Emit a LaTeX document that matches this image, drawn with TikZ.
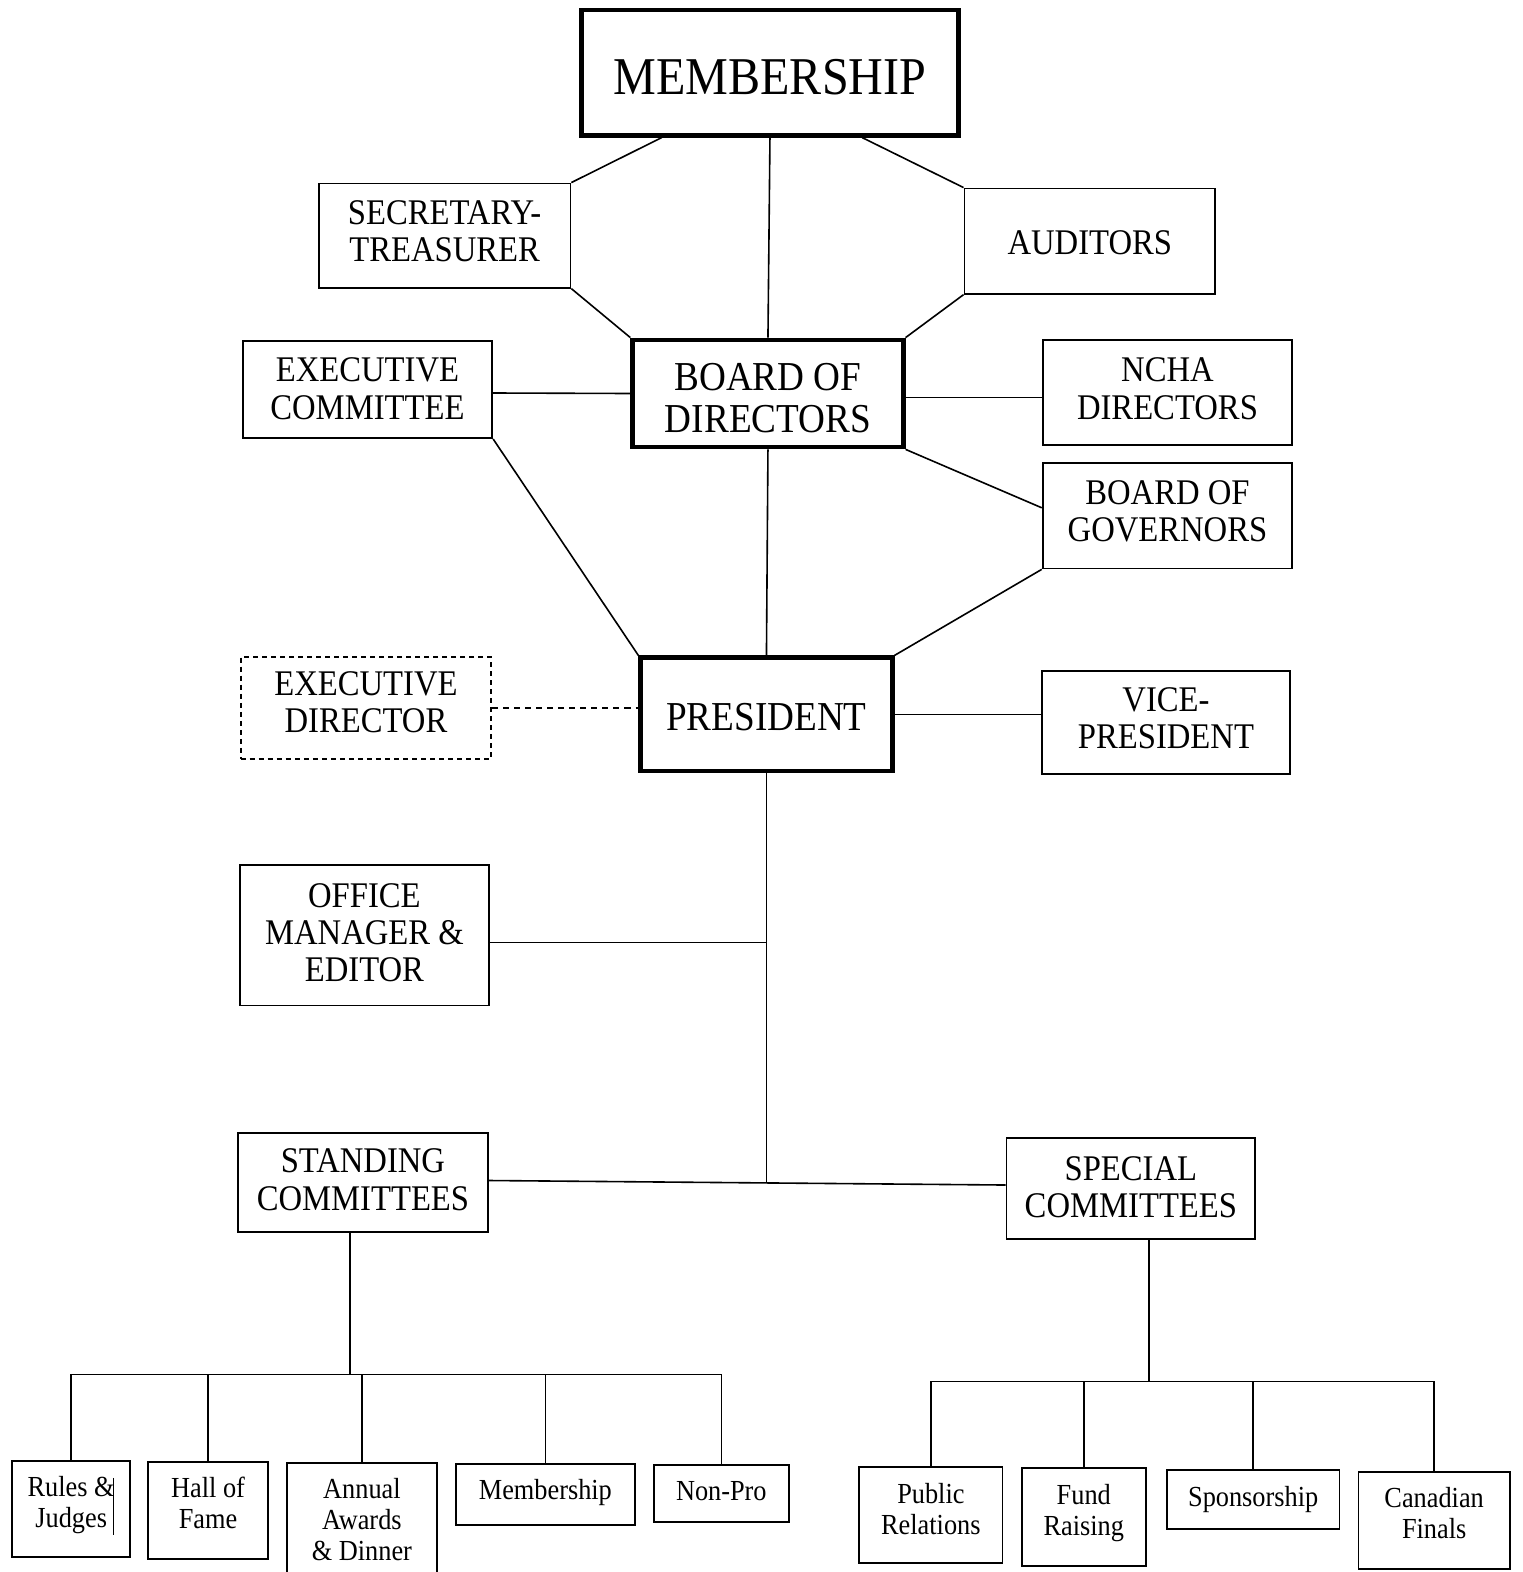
\documentclass[tikz,border=0pt]{standalone}
\usepackage{fontspec}
\setmainfont{Liberation Serif}[FakeStretch=0.905]
\newcommand\fsBig{\fontsize{53}{55}\selectfont}
\newcommand\fsMid{\fontsize{41}{42}\selectfont}
\newcommand\fsStd{\fontsize{36}{37}\selectfont}
\newcommand\fsSmall{\fontsize{29}{31}\selectfont}
\tikzset{
  box/.style={draw, line width=1.8pt, inner sep=0pt, align=center, font=\fsStd},
  mainbox/.style={box, line width=4.5pt, font=\fsMid},
  dashbox/.style={box, dashed, dash pattern=on 5pt off 4pt},
  leaf/.style={box, font=\fsSmall},
  tpos/.style={text height=#1, text depth=0pt},
  link/.style={line width=1.6pt},
  dashlink/.style={line width=1.6pt, dash pattern=on 6pt off 5pt},
}
\begin{document}
\begin{tikzpicture}[x=1pt,y=-1pt]
\useasboundingbox[fill=white] (0,0) rectangle (1519,1568);

% main column
\node[mainbox, font=\fsBig, tpos=44pt, minimum width=376pt, minimum height=125pt] (mem) at (768,72.5) {MEMBERSHIP};
\node[mainbox, tpos=78pt, minimum width=270pt, minimum height=107pt] (bod) at (766,392.5) {BOARD OF\\DIRECTORS};
\node[mainbox, tpos=32pt, minimum width=251pt, minimum height=113pt] (pres) at (764.5,712.5) {PRESIDENT};

% side boxes
\node[box, tpos=52pt, minimum width=251pt, minimum height=104pt] (sec) at (443.5,235) {SECRETARY-\\TREASURER};
\node[box, tpos=27pt, minimum width=250pt, minimum height=105pt] (aud) at (1087,240.5) {AUDITORS};
\node[box, tpos=59pt, minimum width=249pt, minimum height=97pt] (exc) at (366.5,388.5) {EXECUTIVE\\COMMITTEE};
\node[box, tpos=53pt, minimum width=249pt, minimum height=105pt] (ncha) at (1164.5,391.5) {NCHA\\DIRECTORS};
\node[box, tpos=51pt, minimum width=249pt, minimum height=105pt] (bog) at (1164.5,514.5) {BOARD OF\\GOVERNORS};
\node[dashbox, tpos=50pt, minimum width=250pt, minimum height=102pt] (exd) at (365,706) {EXECUTIVE\\DIRECTOR};
\node[box, tpos=53pt, minimum width=248pt, minimum height=103pt] (vp) at (1163,720.5) {VICE-\\PRESIDENT};
\node[box, tpos=92pt, minimum width=249pt, minimum height=140pt] (off) at (363.5,933) {OFFICE\\MANAGER \&\\EDITOR};
\node[box, tpos=55pt, minimum width=250pt, minimum height=99pt] (std) at (362,1179.5) {STANDING\\COMMITTEES};
\node[box, tpos=57pt, minimum width=248pt, minimum height=101pt] (spc) at (1128,1185.5) {SPECIAL\\COMMITTEES};

% standing committees
\node[leaf, tpos=38pt, minimum width=118pt, minimum height=96pt] (rul) at (71,1505) {Rules \&\\Judges};
\node[leaf, tpos=37pt, minimum width=119pt, minimum height=97pt] (hof) at (207.5,1506.5) {Hall of\\Fame};
\node[leaf, tpos=80pt, minimum width=150pt, minimum height=116pt] (ann) at (361,1517) {Annual\\Awards\\\& Dinner};
\node[leaf, tpos=10pt, minimum width=178pt, minimum height=61pt] (mbr) at (544,1490.5) {Membership};
\node[leaf, tpos=15pt, minimum width=135pt, minimum height=57pt] (np) at (719.5,1489.5) {Non-Pro};

% special committees
\node[leaf, tpos=40pt, minimum width=143pt, minimum height=96pt] (pr) at (928.5,1511) {Public\\Relations};
\node[leaf, tpos=38pt, minimum width=124pt, minimum height=98pt] (fr) at (1081,1513) {Fund\\Raising};
\node[leaf, tpos=15pt, minimum width=172pt, minimum height=59pt] (sp) at (1250,1495.5) {Sponsorship};
\node[leaf, tpos=37pt, minimum width=151pt, minimum height=97pt] (cf) at (1430.5,1516.5) {Canadian\\Finals};

% stray bar in "Rules & Judges"
\draw[line width=1.4pt] (113,1474) -- (113,1531);

% top octagon
\draw[link] ([xshift=-108pt]mem.south) -- (sec.north east);
\draw[link] ([xshift=92pt]mem.south) -- (aud.north west);
\draw[link] (mem.south) -- (bod.north);
\draw[link] (sec.south east) -- (bod.north west);
\draw[link] (aud.south west) -- (bod.north east);

% board level
\draw[link] ([yshift=-3.5pt]exc.east) -- (bod.west);
\draw[link] ([yshift=-4pt]bod.east) -- ([yshift=-5pt]ncha.west);
\draw[link] (bod.south east) -- ([yshift=8pt]bog.west);

% to president
\draw[link] (exc.south east) -- (pres.north west);
\draw[link] (bod.south) -- (pres.north);
\draw[link] (bog.south west) -- (pres.north east);
\draw[dashlink] (exd.east) -- (exd.east -| pres.west);
\draw[link] (pres.east) -- (pres.east -| vp.west);

% trunk
\draw[link] (pres.south) -- (pres.south |- std.east);
\draw[link] ([yshift=-7pt]off.east) -- ([yshift=-7pt]off.east -| pres.south);
\draw[link] ([yshift=2pt]std.east) -- ([yshift=3.5pt]spc.west);

% standing bus
\coordinate (sbus) at (349,1371);
\draw[link] ([xshift=-13pt]std.south) -- (sbus);
\draw[link] (rul.north) -- (rul.north |- sbus) -- (np.north |- sbus) -- (np.north);
\draw[link] (hof.north) -- (hof.north |- sbus);
\draw[link] (ann.north) -- (ann.north |- sbus);
\draw[link] (mbr.north) -- (mbr.north |- sbus);

% special bus
\coordinate (pbus) at (1146,1378);
\draw[link] ([xshift=18pt]spc.south) -- (pbus);
\draw[link] (pr.north) -- (pr.north |- pbus) -- (cf.north |- pbus) -- (cf.north);
\draw[link] (fr.north) -- (fr.north |- pbus);
\draw[link] (sp.north) -- (sp.north |- pbus);
\end{tikzpicture}
\end{document}
